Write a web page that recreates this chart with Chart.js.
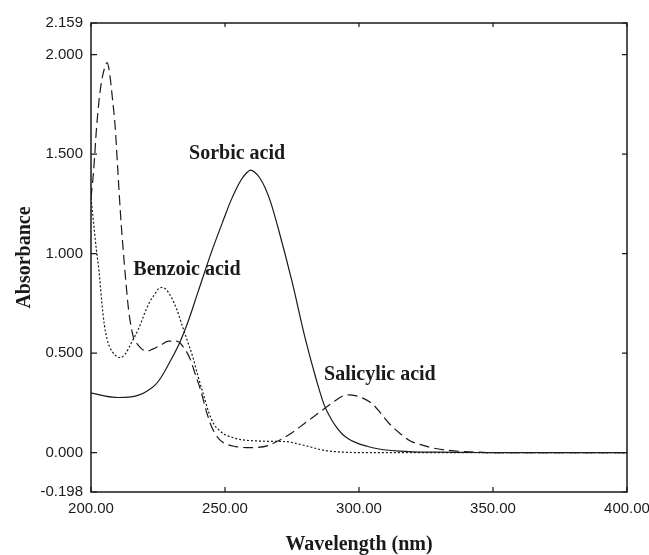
<!DOCTYPE html>
<html>
<head>
<meta charset="utf-8">
<script src="https://cdn.jsdelivr.net/npm/chart.js@4.4.1/dist/chart.umd.min.js"></script>
<style>
    body { margin: 0; background: #fff; }
    #wrap { width: 649px; height: 555px; }
</style>
</head>
<body>
<div id="wrap"><canvas id="chart_uv_spectra"></canvas></div>
<script>
// wavelength (nm) / absorbance
var sorbic_nm  = [200, 205, 210, 215, 218, 221, 224, 226, 228, 230, 233, 236, 240, 245, 250, 252, 254, 256, 258, 259.5, 261, 263, 265, 267, 270, 275, 280, 284, 287, 290, 292, 294, 296, 298, 300, 303, 306, 310, 315, 320, 330, 340, 350, 400];
var sorbic_abs = [0.30, 0.285, 0.277, 0.28, 0.29, 0.31, 0.34, 0.375, 0.42, 0.47, 0.55, 0.65, 0.81, 1.01, 1.19, 1.26, 1.32, 1.37, 1.405, 1.42, 1.41, 1.38, 1.33, 1.26, 1.12, 0.86, 0.57, 0.37, 0.24, 0.16, 0.12, 0.09, 0.07, 0.055, 0.044, 0.032, 0.022, 0.013, 0.007, 0.004, 0.002, 0.001, 0, 0];

var benzoic_nm  = [200, 201, 202, 203, 204, 205, 206, 207, 209, 211, 213, 215, 218, 220, 222, 224, 225, 226.5, 228, 230, 232, 234, 236, 238, 240, 242, 244, 246, 248, 250, 253, 256, 260, 265, 270, 273, 276, 279, 282, 285, 288, 292, 296, 300, 400];
var benzoic_abs = [1.28, 1.15, 1.02, 0.91, 0.76, 0.64, 0.57, 0.53, 0.49, 0.477, 0.50, 0.55, 0.63, 0.70, 0.76, 0.80, 0.82, 0.83, 0.82, 0.78, 0.72, 0.64, 0.56, 0.48, 0.38, 0.29, 0.20, 0.14, 0.11, 0.09, 0.075, 0.065, 0.06, 0.057, 0.056, 0.055, 0.048, 0.038, 0.028, 0.017, 0.009, 0.004, 0.001, 0, 0];

var salicylic_nm  = [200, 201, 202, 203, 204, 205, 206, 207, 208, 209, 210, 211, 212, 213, 214, 215, 216, 217, 219, 221, 223, 226, 229, 232, 235, 237, 239, 241, 243, 245, 248, 251, 254, 258, 262, 266, 270, 275, 280, 285, 290, 294, 296, 299, 302, 305, 308, 311, 315, 319, 323, 328, 333, 338, 345, 350, 400];
var salicylic_abs = [1.28, 1.42, 1.62, 1.77, 1.87, 1.93, 1.96, 1.90, 1.78, 1.64, 1.42, 1.20, 1.02, 0.86, 0.72, 0.63, 0.57, 0.55, 0.52, 0.51, 0.52, 0.54, 0.56, 0.56, 0.52, 0.47, 0.39, 0.31, 0.21, 0.13, 0.065, 0.04, 0.03, 0.025, 0.026, 0.035, 0.06, 0.10, 0.15, 0.20, 0.25, 0.285, 0.29, 0.285, 0.27, 0.245, 0.20, 0.15, 0.10, 0.06, 0.04, 0.022, 0.012, 0.006, 0.002, 0, 0];

var y_ticks = [-0.198, 0, 0.5, 1.0, 1.5, 2.0, 2.159];
var x_ticks = [200, 250, 300, 350, 400];

var curve_labels = [
    { text: "Sorbic acid", nm: 254.5, abs: 1.50 },
    { text: "Benzoic acid", nm: 235.8, abs: 0.92 },
    { text: "Salicylic acid", nm: 307.8, abs: 0.39 }
];

function to_points(xs, ys) {
    return xs.map(function (x, i) { return { x: x, y: ys[i] }; });
}

var ink = "#1a1a1a";

// box round the plot, inward ticks and the curve names
var frame_plugin = {
    id: 'frame_plugin',
    afterDraw: function (chart) {
        var ctx = chart.ctx;
        var a = chart.chartArea;
        var xs = chart.scales.x, ys = chart.scales.y;
        ctx.save();
        ctx.strokeStyle = ink;
        ctx.lineWidth = 1.5;
        ctx.strokeRect(a.left, a.top, a.right - a.left, a.bottom - a.top);
        ctx.lineWidth = 1.2;
        ctx.beginPath();
        y_ticks.forEach(function (v) {
            var py = ys.getPixelForValue(v);
            ctx.moveTo(a.left, py); ctx.lineTo(a.left + 6, py);
            ctx.moveTo(a.right, py); ctx.lineTo(a.right - 5, py);
        });
        x_ticks.forEach(function (v) {
            var px = xs.getPixelForValue(v);
            ctx.moveTo(px, a.bottom); ctx.lineTo(px, a.bottom - 5);
            ctx.moveTo(px, a.top); ctx.lineTo(px, a.top + 4);
        });
        ctx.stroke();

        ctx.fillStyle = ink;
        ctx.font = "bold 20px 'Liberation Serif', 'Times New Roman', serif";
        ctx.textAlign = "center";
        ctx.textBaseline = "middle";
        curve_labels.forEach(function (l) {
            ctx.fillText(l.text, xs.getPixelForValue(l.nm), ys.getPixelForValue(l.abs));
        });
        ctx.restore();
    }
};

var line_common = {
    borderColor: ink,
    borderWidth: 1.2,
    pointRadius: 0,
    fill: false,
    cubicInterpolationMode: 'monotone'
};

var chart_uv_spectra = new Chart(document.getElementById('chart_uv_spectra'), {
    type: 'line',
    data: {
        datasets: [
            Object.assign({ label: "Sorbic acid", data: to_points(sorbic_nm, sorbic_abs) }, line_common),
            Object.assign({ label: "Benzoic acid", data: to_points(benzoic_nm, benzoic_abs), borderDash: [2, 2] }, line_common),
            Object.assign({ label: "Salicylic acid", data: to_points(salicylic_nm, salicylic_abs), borderDash: [10, 5] }, line_common)
        ]
    },
    options: {
        responsive: true,
        maintainAspectRatio: false,
        animation: false,
        devicePixelRatio: 1,
        layout: { padding: { top: 23, right: 22, left: 0, bottom: 0 } },
        plugins: {
            legend: { display: false },
            tooltip: { enabled: false }
        },
        scales: {
            x: {
                type: 'linear',
                min: 200,
                max: 400,
                grid: { display: false, drawTicks: false },
                border: { display: false },
                ticks: {
                    stepSize: 50,
                    padding: 8,
                    color: ink,
                    maxRotation: 0,
                    font: { family: "'Liberation Sans', Arial, sans-serif", size: 15 },
                    callback: function (v) { return v.toFixed(2); }
                },
                title: {
                    display: true,
                    text: "Wavelength (nm)",
                    color: ink,
                    padding: { top: 0, bottom: 0 },
                    font: { family: "'Liberation Serif', 'Times New Roman', serif", size: 20, weight: 'bold', lineHeight: 1.0 }
                },
                afterFit: function (scale) {
                    scale.height = 63;
                    scale.paddingLeft = 0;
                    scale.paddingRight = 0;
                }
            },
            y: {
                type: 'linear',
                min: -0.198,
                max: 2.159,
                grid: { display: false, drawTicks: false },
                border: { display: false },
                afterBuildTicks: function (scale) {
                    scale.ticks = y_ticks.map(function (v) { return { value: v }; });
                },
                ticks: {
                    padding: 8,
                    color: ink,
                    font: { family: "'Liberation Sans', Arial, sans-serif", size: 15 },
                    callback: function (v) { return Number(v).toFixed(3); }
                },
                title: {
                    display: true,
                    text: "Absorbance",
                    color: ink,
                    padding: { top: 13, bottom: 0 },
                    font: { family: "'Liberation Serif', 'Times New Roman', serif", size: 20, weight: 'bold' }
                },
                afterFit: function (scale) {
                    scale.width = 91;
                }
            }
        }
    },
    plugins: [frame_plugin]
});
</script>
</body>
</html>
